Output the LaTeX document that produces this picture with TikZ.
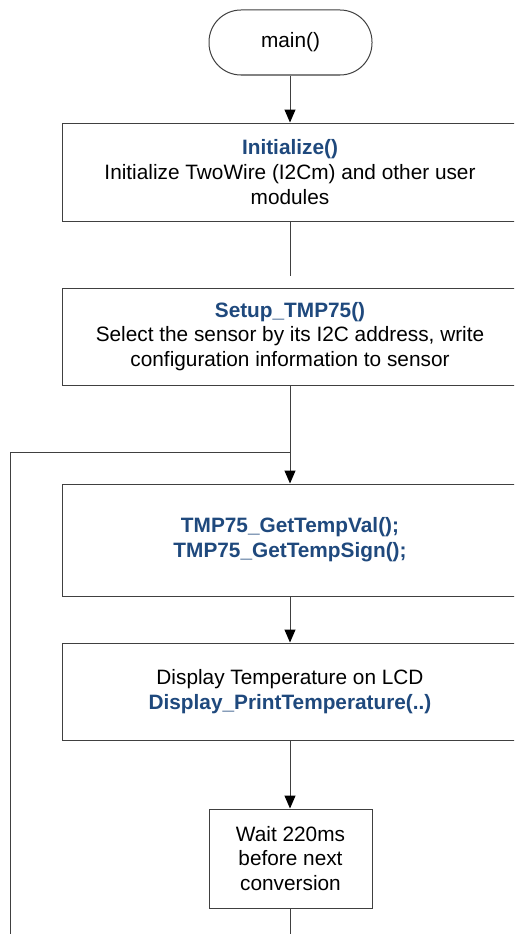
\documentclass[tikz,border=0pt]{standalone}
\usepackage{fontspec}
\setmainfont{Liberation Sans}
\usetikzlibrary{arrows.meta}
\definecolor{fnblue}{RGB}{31,73,125}
\definecolor{linegray}{RGB}{64,64,64}
\tikzset{
  flow/.style={draw=linegray, line width=1pt, fill=white, align=center,
    font=\fontsize{20.8}{24.8}\selectfont, inner sep=0pt},
  wide/.style={flow, minimum width=456pt},
  terminal/.style={flow, rounded corners=32pt, minimum width=163pt, minimum height=65pt},
  link/.style={draw=linegray, line width=1pt},
  arrow/.style={link, -{Triangle[width=11pt,length=13pt,color=black]}}
}
\newcommand{\fname}[1]{{\color{fnblue}\bfseries #1}}
\begin{document}
\begin{tikzpicture}[x=1pt,y=-1pt]
  \useasboundingbox (0,0) rectangle (514,934);
  \clip (0,0) rectangle (514,934);

  \node[terminal] (main) at (290.5,42.5) {main()};
  \node[wide, minimum height=98pt] (init) at (290,172)
    {\fname{Initialize()}\\Initialize TwoWire (I2Cm) and other user\\modules};
  \node[wide, minimum height=97pt] (setup) at (290,336.5)
    {\fname{Setup\_TMP75()}\\Select the sensor by its I2C address, write\\configuration information to sensor};
  \node[wide, minimum height=112pt] (read) at (290,540)
    {\fname{TMP75\_GetTempVal();}\\\fname{TMP75\_GetTempSign();}};
  \node[wide, minimum height=97pt] (show) at (290,691.5)
    {Display Temperature on LCD\\\fname{Display\_PrintTemperature(..)}};
  \node[flow, minimum width=163pt, minimum height=99pt] (wait) at (290.5,858.5)
    {Wait 220ms\\before next\\conversion};

  \coordinate (gap) at (290,276);
  \coordinate (join) at (290,452);
  \coordinate (bottom) at (290,936);
  \coordinate (leftbot) at (10,936);

  \draw[arrow] (main.south -| init.north) -- (init.north);
  \draw[link] (init.south) -- (gap);
  \draw[arrow] (setup.south) -- (read.north);
  \draw[arrow] (read.south) -- (show.north);
  \draw[arrow] (show.south) -- (show.south |- wait.north);
  \draw[link] (wait.south -| show.south) -- (bottom);
  \draw[link] (leftbot) |- (join);
\end{tikzpicture}
\end{document}
